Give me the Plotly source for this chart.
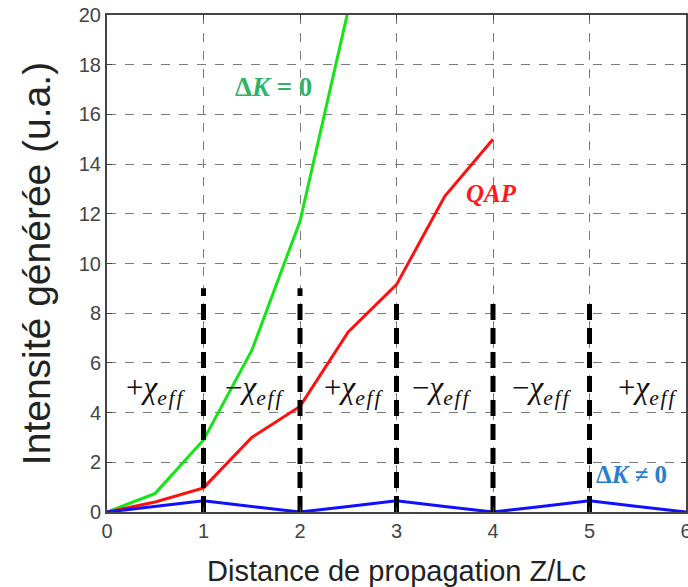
import plotly.graph_objects as go

# Propagation distance (in coherence lengths) and generated intensity (a.u.)
z_green = [0, 0.5, 1, 1.5, 2, 2.5, 3]
i_green = [0, 0.75, 2.9, 6.5, 11.7, 20.2, 30]          # perfect phase matching, dK = 0

z_red = [0, 0.5, 1, 1.5, 2, 2.5, 3, 3.5, 4]
i_red = [0, 0.4, 0.97, 3.0, 4.25, 7.25, 9.15, 12.7, 15.0]  # quasi phase matching

z_blue = [0, 0.5, 1, 1.5, 2, 2.5, 3, 3.5, 4, 4.5, 5, 5.5, 6]
i_blue = [0, 0.22, 0.45, 0.22, 0, 0.22, 0.45, 0.22, 0, 0.22, 0.45, 0.22, 0]  # dK != 0

# Domain boundaries (poling inversions) and their drawn heights
boundary_z = [1, 2, 3, 4, 5]
boundary_top = [9.0, 9.0, 8.5, 8.5, 8.5]

# Sign of the effective nonlinearity in each domain
domain_signs = ["+", "\u2212", "+", "\u2212", "\u2212", "+"]
domain_centers = [0.5, 1.53, 2.55, 3.47, 4.5, 5.6]

x_ticks = [0, 1, 2, 3, 4, 5, 6]
y_ticks = [0, 2, 4, 6, 8, 10, 12, 14, 16, 18, 20]

fig = go.Figure()

fig.add_trace(go.Scatter(x=z_green, y=i_green, mode="lines",
                         line=dict(color="#14e614", width=3), showlegend=False))
fig.add_trace(go.Scatter(x=z_red, y=i_red, mode="lines",
                         line=dict(color="#ff1010", width=3), showlegend=False))
fig.add_trace(go.Scatter(x=z_blue, y=i_blue, mode="lines",
                         line=dict(color="#1010ff", width=3), showlegend=False))

for zb, top in zip(boundary_z, boundary_top):
    fig.add_trace(go.Scatter(x=[zb, zb], y=[0, top], mode="lines",
                             line=dict(color="black", width=5, dash="16px,8px"),
                             showlegend=False))

serif = "Liberation Serif"
for sign, zc in zip(domain_signs, domain_centers):
    fig.add_annotation(x=zc, y=4.9, xref="x", yref="y", showarrow=False,
                       text=(f"{sign}<i>\u03c7</i>"
                             f"<sub><i>e\u200af\u200af</i></sub>"),
                       font=dict(family=serif, size=31, color="#111"))

fig.add_annotation(x=1.73, y=17.1, showarrow=False,
                   text="<b>\u0394<i>K</i> = 0</b>",
                   font=dict(family=serif, size=27, color="#2fb36a"))
fig.add_annotation(x=3.98, y=12.8, showarrow=False,
                   text="<b><i>QAP</i></b>",
                   font=dict(family=serif, size=25, color="#ff1a1a"))
fig.add_annotation(x=5.43, y=1.5, showarrow=False,
                   text="<b>\u0394<i>K</i> \u2260 0</b>",
                   font=dict(family=serif, size=25, color="#2a7fd0"))

axis_common = dict(
    showline=True, linecolor="#444", linewidth=2, mirror="ticks",
    ticks="inside", ticklen=5, tickcolor="#444",
    showgrid=True, gridcolor="#7a7a7a", gridwidth=1, griddash="dash",
    zeroline=False, automargin=False,
    tickfont=dict(family="Liberation Sans", size=20, color="#444"),
)

fig.update_xaxes(range=[0, 6], tickvals=x_ticks, ticklabeloverflow="allow",
                 title=dict(text="Distance de propagation Z/Lc",
                            font=dict(family="Liberation Sans", size=29, color="#222"),
                            standoff=20),
                 **axis_common)
fig.update_yaxes(range=[0, 20], tickvals=y_ticks,
                 title=dict(text="Intensité générée (u.a.)",
                            font=dict(family="Liberation Sans", size=39, color="#222"),
                            standoff=16),
                 **axis_common)

fig.update_layout(
    width=688, height=587,
    margin=dict(l=107, r=2, t=15, b=75),
    paper_bgcolor="white", plot_bgcolor="white",
)

fig.write_html("out.html")
